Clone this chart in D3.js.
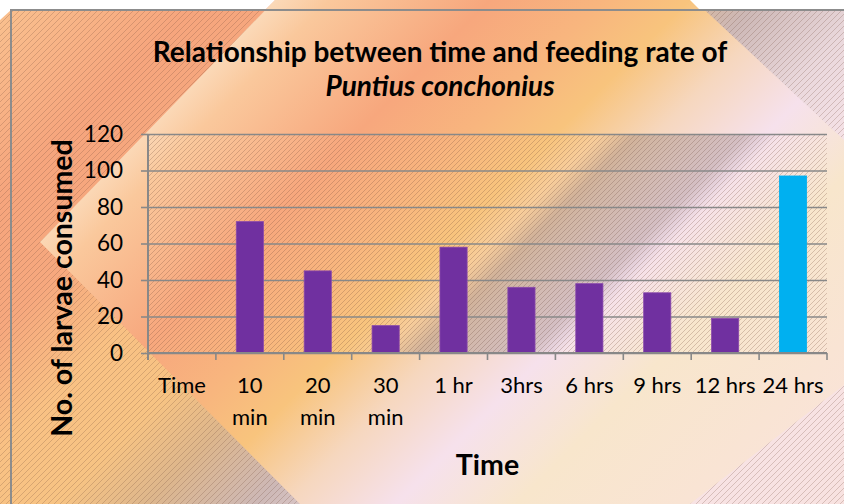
<!DOCTYPE html>
<html><head><meta charset="utf-8">
<script src="https://cdn.jsdelivr.net/npm/d3@7"></script>
<style>html,body{margin:0;padding:0;background:#fff;overflow:hidden}</style>
</head><body>
<svg id="c" width="844" height="504"></svg>
<script>
const categories = ["Time","10 min","20 min","30 min","1 hr","3hrs","6 hrs","9 hrs","12 hrs","24 hrs"];
const labelLines = [["Time"],["10","min"],["20","min"],["30","min"],["1 hr"],["3hrs"],["6 hrs"],["9 hrs"],["12 hrs"],["24 hrs"]];
const values = [0,72,45,15,58,36,38,33,19,97];
const yTicks = [0,20,40,60,80,100,120];
const titleLines = ["Relationship between time and feeding rate of","Puntius conchonius"];
const xTitle = "Time";
const yTitle = "No. of larvae consumed";

const W = 844, H = 504;
const M = {left:148, right:17, top:134, bottom:151};
const svg = d3.select("#c");
const defs = svg.append("defs");

function grad(id, stops){
  const g = defs.append("linearGradient").attr("id",id)
    .attr("gradientUnits","userSpaceOnUse").attr("x1",0).attr("y1",0).attr("x2",674).attr("y2",674);
  stops.forEach(s=>g.append("stop").attr("offset",s[0]/1348).attr("stop-color",s[1]).attr("stop-opacity",s[2]===undefined?1:s[2]));
}
grad("gOut",[[0,"#FAC290"],[200,"#F6A57D"],[330,"#F6A87E"],[450,"#F9C184"],[560,"#F7C383"],[650,"#DDB68C"],[760,"#CDB8B6"],[880,"#EAD8DC"],[1000,"#F7E3E8"],[1348,"#F8E2E0"]]);
grad("gHex",[[270,"#FBDBBB"],[330,"#FAC89C"],[490,"#F7A77D"],[600,"#F8B57E"],[690,"#F8C47D"],[790,"#F6D7BE"],[900,"#F6E1EC"],[1020,"#F8E6CC"],[1348,"#FAE2DC"]]);
grad("gPlot",[[0,"#6e5040",0.25],[300,"#6e5040",0],[735,"#6e5040",0],[770,"#5a4a50",0.24],[880,"#5a4a50",0.22],[915,"#5a4a50",0],[1348,"#5a4a50",0]]);

function hatch(id, size, color, width){
  const p = defs.append("pattern").attr("id",id).attr("patternUnits","userSpaceOnUse")
    .attr("width",size).attr("height",size);
  p.append("path").attr("d",`M0,${size} L${size},0 M${-size/2},${size/2} L${size/2},${-size/2} M${size/2},${size*1.5} L${size*1.5},${size/2}`)
    .attr("stroke",color).attr("stroke-width",width).attr("fill","none");
}
hatch("hOut",6,"rgba(110,70,55,0.3)",0.8);
hatch("hPlot",5,"rgba(110,70,55,0.32)",0.8);

// background
svg.append("rect").attr("width",W).attr("height",H).attr("fill","url(#gOut)");
svg.append("rect").attr("width",W).attr("height",H).attr("fill","url(#hOut)");
svg.append("polygon").attr("points","275,0 694,0 844,140 844,385 690,504 300,504 40,242").attr("fill","url(#gHex)");
// white corners
svg.append("polygon").attr("points","0,0 275,0 265,10 11,10 0,20").attr("fill","#fff");
svg.append("polygon").attr("points","690,0 844,0 844,10 700,10").attr("fill","#fff");
// chart border
svg.append("path").attr("d","M11,505 L11,10 L845,10").attr("fill","none").attr("stroke","#8c8c8c").attr("stroke-width",2);

const x0 = M.left, x1 = W - M.right, yb = H - M.bottom;
const xb = d3.scaleBand().domain(categories).range([x0,x1]).padding(0);
const x = d3.scaleBand().domain(categories).range([x0,x1]).paddingInner(0.6).paddingOuter(0.3);
const y = d3.scaleLinear().domain([0,120]).range([yb, M.top]);

// plot area fill
const plot = svg.append("g");
plot.append("rect").attr("x",x0).attr("y",M.top).attr("width",x1-x0).attr("height",yb-M.top).attr("fill","url(#hPlot)");
plot.append("rect").attr("x",x0).attr("y",M.top).attr("width",x1-x0).attr("height",yb-M.top).attr("fill","url(#gPlot)");

// gridlines + y axis
const gy = svg.append("g").attr("transform",`translate(${x0},0)`)
  .call(d3.axisLeft(y).tickValues(yTicks).tickSize(-(x1-x0)).tickPadding(25));
gy.select(".domain").remove();
gy.selectAll(".tick line").attr("stroke","#888").attr("stroke-width",1.6);
gy.selectAll(".tick text").attr("font-family","Lato").attr("font-size",22.5).attr("fill","#000");
gy.selectAll(".tick").append("line").attr("x1",-7).attr("x2",0).attr("stroke","#888").attr("stroke-width",1.6);
svg.append("line").attr("x1",x0).attr("x2",x0).attr("y1",M.top).attr("y2",yb+7).attr("stroke","#888").attr("stroke-width",2);

// bars
svg.append("g").selectAll("rect").data(values).join("rect")
  .attr("x",(d,i)=>x(categories[i])).attr("width",x.bandwidth())
  .attr("y",d=>y(d)).attr("height",d=>y(0)-y(d))
  .attr("fill",(d,i)=>i===categories.length-1?"#00B0F0":"#7030A0")
  .attr("stroke",(d,i)=>i===categories.length-1?"#00B0F0":"#8a4aac").attr("stroke-width",0.8);

// x axis
svg.append("line").attr("x1",x0).attr("x2",x1).attr("y1",yb).attr("y2",yb).attr("stroke","#888").attr("stroke-width",2);
const tickPos = categories.map(c=>xb(c)).concat([x1]);
svg.append("g").selectAll("line").data(tickPos).join("line")
  .attr("x1",d=>d).attr("x2",d=>d).attr("y1",yb).attr("y2",yb+7).attr("stroke","#888").attr("stroke-width",1.6);
const xl = svg.append("g").selectAll("text").data(labelLines).join("text")
  .attr("x",(d,i)=>xb(categories[i])+xb.bandwidth()/2).attr("y",yb+40)
  .attr("text-anchor","middle").attr("font-family","Lato").attr("font-size",22).attr("fill","#000");
xl.selectAll("tspan").data(d=>d).join("tspan")
  .attr("x",function(){return this.parentNode.getAttribute("x");})
  .attr("dy",(d,i)=>i===0?0:32).text(d=>d);

// titles
svg.append("text").attr("x",440).attr("y",62).attr("text-anchor","middle")
  .attr("font-family","Lato").attr("font-weight","bold").attr("font-size",28).text(titleLines[0]);
svg.append("text").attr("x",440).attr("y",96).attr("text-anchor","middle")
  .attr("font-family","Lato").attr("font-weight","bold").attr("font-style","italic").attr("font-size",28).text(titleLines[1]);
svg.append("text").attr("x",(x0+x1)/2).attr("y",475).attr("text-anchor","middle")
  .attr("font-family","Lato").attr("font-weight","bold").attr("font-size",28.5).text(xTitle);
svg.append("text").attr("transform","translate(72,288) rotate(-90)").attr("text-anchor","middle")
  .attr("font-family","Lato").attr("font-weight","bold").attr("font-size",28.5).text(yTitle);
</script>
</body></html>
